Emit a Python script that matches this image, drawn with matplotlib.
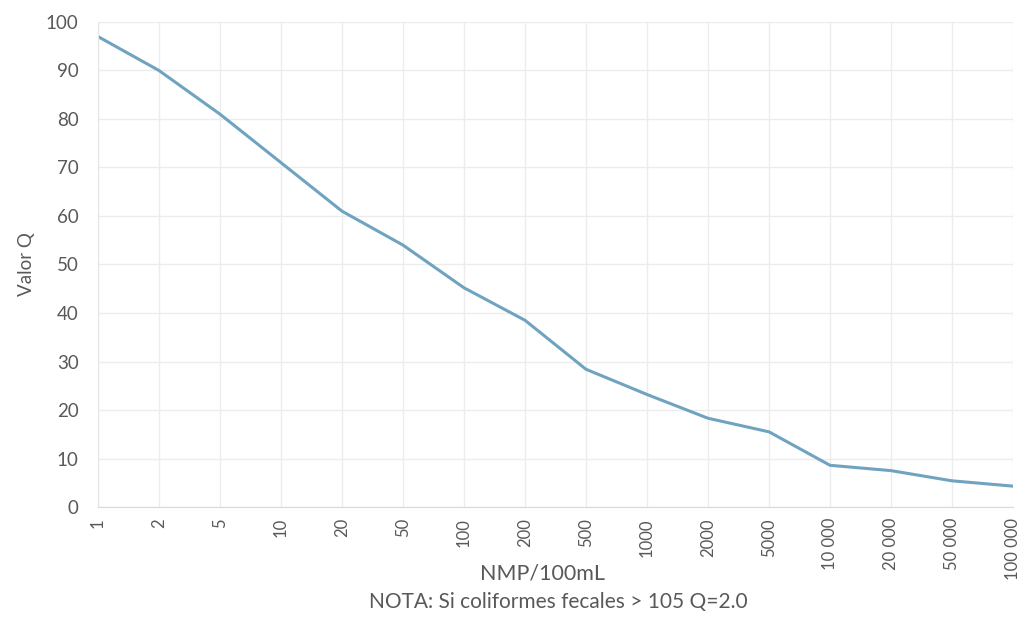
# Valor Q vs NMP/100mL (coliformes fecales)
import matplotlib.pyplot as plt

plt.rcParams['font.family'] = ['Lato', 'DejaVu Sans']

# Datos
nmp = ['1', '2', '5', '10', '20', '50', '100', '200', '500', '1000', '2000',
       '5000', '10 000', '20 000', '50 000', '100 000']
valor_q = [97, 90, 81, 71, 61, 54, 45.2, 38.5, 28.4, 23.2, 18.3,
           15.5, 8.6, 7.5, 5.4, 4.3]

gris = '#595959'

fig = plt.figure(figsize=(10.28, 6.43), dpi=100)
ax = fig.add_axes([0.0953, 0.2115, 0.8901, 0.7543])

x = list(range(len(nmp)))
ax.plot(x, valor_q, color='#6fa3c0', linewidth=2.2, solid_joinstyle='round')

ax.set_xlim(0, len(nmp) - 1)
ax.set_ylim(0, 100)
ax.set_yticks(range(0, 101, 10))
ax.set_xticks(x)
ax.set_xticklabels(nmp, rotation=90, fontsize=12, color=gris)
ax.tick_params(axis='y', labelsize=13.5, colors=gris, length=0, pad=14)
ax.tick_params(axis='x', length=0, pad=8)

ax.grid(True, color='#ececec', linewidth=1)
for s in ['top', 'right']:
    ax.spines[s].set_visible(False)
ax.spines['left'].set_color('#e6e6e6')
ax.spines['bottom'].set_color('#d9d9d9')

ax.set_ylabel('Valor Q', fontsize=13.5, color=gris, labelpad=8)
fig.text(0.528, 0.108, 'NMP/100mL', ha='center', va='center', fontsize=15.5, color=gris)
fig.text(0.543, 0.063, 'NOTA: Si coliformes fecales > 105 Q=2.0', ha='center',
         va='center', fontsize=15, color=gris)

plt.savefig('out.png', dpi=100)
